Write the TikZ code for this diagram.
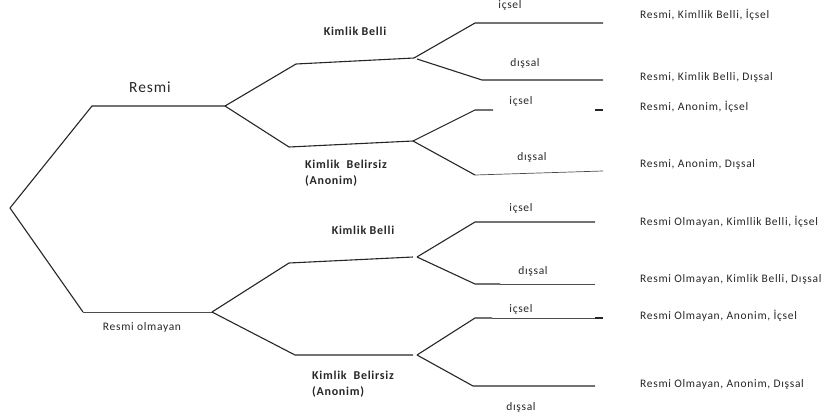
\documentclass[tikz,border=0pt]{standalone}
\usepackage{fontspec}
\setmainfont{Carlito}[LetterSpace=6]
\begin{document}
\begin{tikzpicture}[x=1pt,y=-1pt,
  br/.style={draw=black!85,line width=1.1pt,line join=miter},
  thin/.style={draw=black!70,line width=0.7pt},
  lab/.style={inner sep=0pt,font=\fontsize{11.5}{13}\selectfont,text=black!85},
  res/.style={inner sep=0pt,anchor=west,font=\fontsize{11.5}{13}\selectfont,text=black!85},
  cat/.style={inner sep=0pt,font=\bfseries\fontsize{12}{16}\selectfont,text=black!85},
  top/.style={inner sep=0pt,font=\fontsize{15.5}{18}\selectfont,text=black!85}]
\useasboundingbox (0,0) rectangle (830,418);
% vertices
\coordinate (root) at (10,208);
\coordinate (r1) at (92,106);  \coordinate (r2) at (225,106);
\coordinate (o1) at (83,312);  \coordinate (o2) at (212,312);
% Resmi - Kimlik Belli
\coordinate (rk1) at (296,64); \coordinate (rk2) at (414,58);
\coordinate (rki1) at (475,23); \coordinate (rki2) at (603,23);
\coordinate (rkd0) at (417,59); \coordinate (rkd1) at (482,80); \coordinate (rkd2) at (603,80);
% Resmi - Anonim
\coordinate (ra1) at (289,147); \coordinate (ra2) at (413,141);
\coordinate (rai1) at (475,110); \coordinate (rai2) at (493,110);
\coordinate (rai3) at (595,110); \coordinate (rai4) at (603,110);
\coordinate (rad1) at (475,175); \coordinate (rad2) at (603,171);
% Resmi olmayan - Kimlik Belli
\coordinate (ok1) at (289,263); \coordinate (ok2) at (413,257);
\coordinate (oki0) at (417,257); \coordinate (oki1) at (475,222); \coordinate (oki2) at (595,222);
\coordinate (okd1) at (475,284); \coordinate (okd2) at (500,284); \coordinate (okd3) at (595,284);
% Resmi olmayan - Anonim
\coordinate (oa1) at (295,355); \coordinate (oa2) at (413,355);
\coordinate (oai0) at (417,355); \coordinate (oai1) at (475,318); \coordinate (oai2) at (492,318);
\coordinate (oai3) at (595,318); \coordinate (oai4) at (603,318);
\coordinate (oad1) at (473,386); \coordinate (oad2) at (595,386);
% branches
\draw[br] (root) -- (r1) -- (r2);
\draw[br] (root) -- (o1);
\draw[thin] (o1) -- (o2);
\draw[br] (r2) -- (rk1) -- (rk2);
\draw[br] (r2) -- (ra1) -- (ra2);
\draw[br] (o2) -- (ok1) -- (ok2);
\draw[br] (o2) -- (oa1) -- (oa2);
\draw[br] (rk2) -- (rki1) -- (rki2);
\draw[br] (rkd0) -- (rkd1) -- (rkd2);
\draw[br] (ra2) -- (rai1) -- (rai2);
\draw[br] (rai3) -- (rai4);
\draw[br] (ra2) -- (rad1);
\draw[thin] (rad1) -- (rad2);
\draw[br] (oki0) -- (oki1) -- (oki2);
\draw[br] (oki0) -- (okd1) -- (okd2);
\draw[thin] (okd2) -- (okd3);
\draw[br] (oai0) -- (oai1) -- (oai2);
\draw[thin] (oai2) -- (oai3);
\draw[br] (oai3) -- (oai4);
\draw[br] (oai0) -- (oad1) -- (oad2);
% category labels
\node[top] (tResmi) at (150,87) {Resmi};
\node[lab] (tOlm) at (142,327) {Resmi olmayan};
\node[cat] (tRKB) at (355,31) {Kimlik Belli};
\node[cat,anchor=north west,align=left] (tRKA) at (305,160) {Kimlik\ \ Belirsiz\\(Anonim)};
\node[cat] (tOKB) at (363,230) {Kimlik Belli};
\node[cat,anchor=north west,align=left] (tOKA) at (312,371) {Kimlik\ \ Belirsiz\\(Anonim)};
% branch labels
\node[lab] (l1) at (510,5) {içsel};
\node[lab] (l2) at (525,63) {dışsal};
\node[lab] (l3) at (521,101) {içsel};
\node[lab] (l4) at (532,157) {dışsal};
\node[lab] (l5) at (521,208) {içsel};
\node[lab] (l6) at (533,271) {dışsal};
\node[lab] (l7) at (521,309) {içsel};
\node[lab] (l8) at (521,407) {dışsal};
% results
\node[res] (e1) at (640,15) {Resmi, Kimllik Belli, İçsel};
\node[res] (e2) at (640,77) {Resmi, Kimlik Belli, Dışsal};
\node[res] (e3) at (640,107) {Resmi, Anonim, İçsel};
\node[res] (e4) at (640,164) {Resmi, Anonim, Dışsal};
\node[res] (e5) at (640,222) {Resmi Olmayan, Kimllik Belli, İçsel};
\node[res] (e6) at (640,279) {Resmi Olmayan, Kimlik Belli, Dışsal};
\node[res] (e7) at (640,316) {Resmi Olmayan, Anonim, İçsel};
\node[res] (e8) at (640,384) {Resmi Olmayan, Anonim, Dışsal};
\end{tikzpicture}
\end{document}
